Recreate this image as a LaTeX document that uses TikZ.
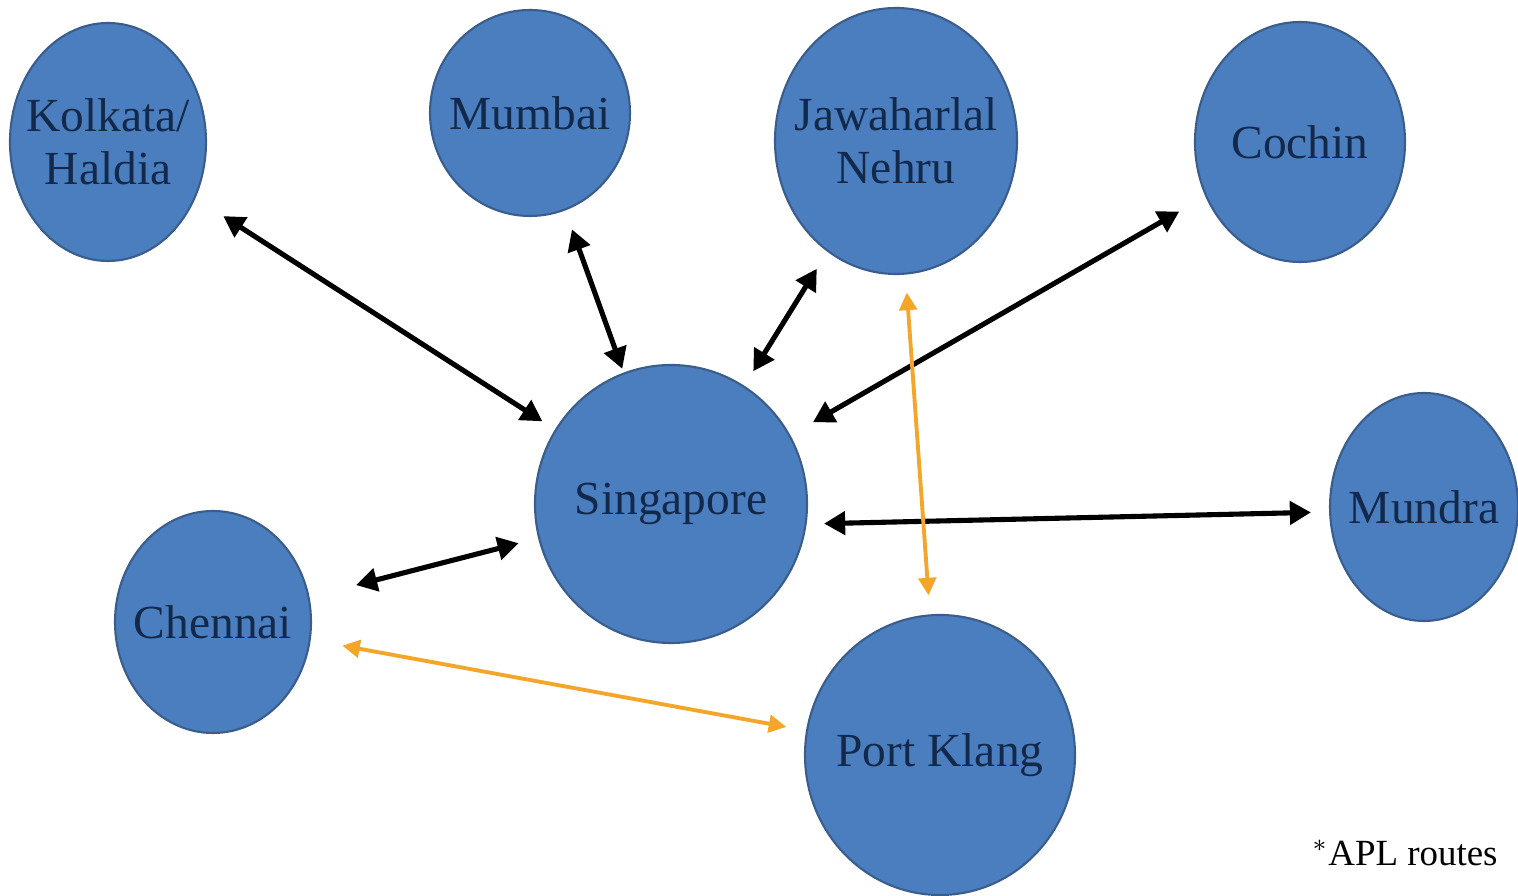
\documentclass[tikz,border=0pt]{standalone}
\usepackage{fontspec}
\setmainfont{Liberation Serif}
\usetikzlibrary{shapes.geometric,arrows.meta}
\definecolor{portblue}{HTML}{4A7EBF}
\definecolor{portedge}{HTML}{3A5D8C}
\definecolor{porttext}{HTML}{13294B}
\definecolor{aplorange}{HTML}{F4A62A}

\begin{document}
\begin{tikzpicture}[
  port/.style={ellipse, fill=portblue, draw=portedge, line width=0.6pt, inner sep=0pt},
  portname/.style={text=porttext, font=\fontsize{13.5}{15}\selectfont, align=center, inner sep=0pt},
  link/.style={line width=1.45pt, {Triangle[length=6pt,width=6.5pt]}-{Triangle[length=6pt,width=6.5pt]}},
  apl/.style={aplorange, line width=1.1pt, {Triangle[length=5pt,width=5pt]}-{Triangle[length=5pt,width=5pt]}}
]
\useasboundingbox (0,0) rectangle (15.18,-8.96);
% Portos
\node[port, minimum width=1.96cm, minimum height=2.38cm, label={[portname]center:Kolkata/\\Haldia}] (kolkata) at (1.08,-1.42) {};
\node[port, minimum width=2.00cm, minimum height=2.06cm, label={[portname]center:Mumbai}] (mumbai) at (5.30,-1.13) {};
\node[port, minimum width=2.42cm, minimum height=2.66cm, label={[portname]center:Jawaharlal\\Nehru}] (jnpt) at (8.96,-1.41) {};
\node[port, minimum width=2.10cm, minimum height=2.40cm, label={[portname]center:Cochin}] (cochin) at (13.00,-1.42) {};
\node[port, minimum width=2.72cm, minimum height=2.78cm, label={[portname]center:Singapore}] (singapore) at (6.71,-5.04) {};
\node[port, minimum width=1.88cm, minimum height=2.28cm, label={[portname]center:Mundra}] (mundra) at (14.24,-5.07) {};
\node[port, minimum width=1.96cm, minimum height=2.22cm, label={[portname]center:Chennai}] (chennai) at (2.13,-6.22) {};
\node[port, minimum width=2.70cm, minimum height=2.80cm, label={[portname]center:Port Klang}] (portklang) at (9.40,-7.55) {};
% Rotas a partir de Singapura
\draw[link, shorten <=0.33cm, shorten >=0.15cm] (kolkata) -- (singapore);
\draw[link, shorten <=0.2cm, shorten >=0.04cm] (mumbai) -- (singapore);
\draw[link, shorten <=0.2cm, shorten >=0.17cm] (jnpt) -- (singapore);
\draw[link, shorten <=0.3cm, shorten >=0.26cm] (cochin) -- (singapore);
\draw[link, shorten <=0.16cm, shorten >=0.18cm] ([yshift=-0.2cm]singapore.east) -- ([yshift=-0.05cm]mundra.west);
\draw[link, shorten <=0.48cm, shorten >=0.2cm] (chennai) -- (singapore);
% Rotas APL
\draw[apl, shorten <=0.18cm, shorten >=0.19cm] (jnpt) -- (portklang);
\draw[apl, shorten <=0.32cm, shorten >=0.2cm] (chennai) -- (portklang);
\node[anchor=east, font=\fontsize{10.5}{12}\selectfont] (nota) at (15.10,-8.53) {$^*$APL routes};
\end{tikzpicture}
\end{document}
